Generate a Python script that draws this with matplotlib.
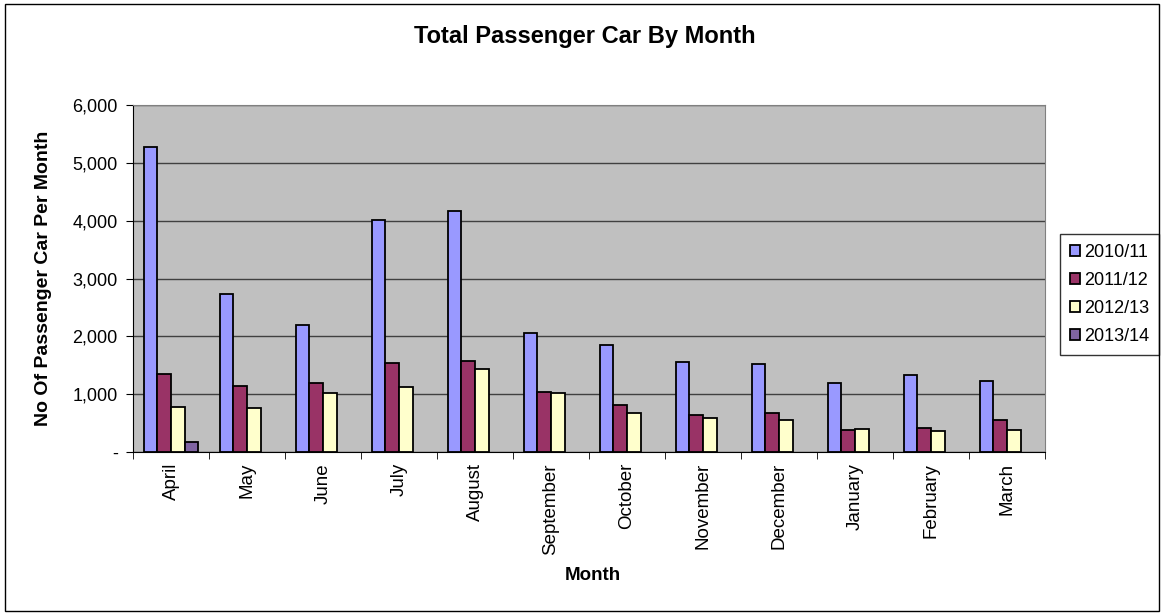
import matplotlib.pyplot as plt
import numpy as np
from matplotlib.patches import Rectangle
from matplotlib.ticker import FuncFormatter

plt.rcParams["font.family"] = ["Liberation Sans", "DejaVu Sans"]

months = ["April", "May", "June", "July", "August", "September", "October",
          "November", "December", "January", "February", "March"]
series_names = ["2010/11", "2011/12", "2012/13", "2013/14"]
y2010 = [5280, 2730, 2200, 4010, 4170, 2060, 1855, 1555, 1525, 1190, 1330, 1220]
y2011 = [1355, 1145, 1200, 1545, 1580, 1040, 815, 640, 675, 375, 420, 550]
y2012 = [785, 765, 1015, 1120, 1440, 1025, 675, 580, 550, 405, 360, 375]
y2013 = [180] + [np.nan] * 11
colors = ["#9999FF", "#993366", "#FFFFCC", "#8064A2"]

W, H = 1164, 615
fig = plt.figure(figsize=(W / 100, H / 100), dpi=100)
fig.patches.append(Rectangle((0.004, 0.006), 0.992, 0.988, transform=fig.transFigure,
                             fill=False, edgecolor="black", lw=1.0))
ax = fig.add_axes([133 / W, 1 - 452 / H, 912 / W, 347 / H])
ax.set_facecolor("#C0C0C0")

x = np.arange(len(months))
width = 0.18
for i, (name, vals, c) in enumerate(zip(series_names, [y2010, y2011, y2012, y2013], colors)):
    ax.bar(x + (i - 1.5) * width, vals, width, color=c, edgecolor="black",
           linewidth=1.3, label=name, zorder=3)

ax.set_xlim(-0.5, len(months) - 0.5)
ax.set_ylim(0, 6000)
ax.set_yticks(np.arange(0, 6001, 1000))
ax.yaxis.set_major_formatter(FuncFormatter(lambda v, p: "-" if v == 0 else f"{int(v):,}"))
ax.grid(axis="y", color="#404040", lw=1.0, zorder=1)
ax.set_xticks(x)
ax.set_xticklabels(months, rotation=90, fontsize=13.5)
ax.set_xticks(np.arange(-0.5, len(months)), minor=True)
ax.tick_params(axis="x", which="major", length=0, pad=8)
ax.tick_params(axis="x", which="minor", length=5, direction="out")
ax.tick_params(axis="y", labelsize=13, length=5, direction="out", pad=6)
for s in ["top", "right"]:
    ax.spines[s].set_color("#808080")
ax.spines["left"].set_color("black")
ax.spines["bottom"].set_color("black")

fig.text(585 / W, 1 - 37 / H, "Total Passenger Car By Month", fontsize=17,
         fontweight="bold", ha="center", va="center")
fig.text(593 / W, 1 - 575 / H, "Month", fontsize=13.5, fontweight="bold",
         ha="center", va="center")
fig.text(44 / W, 1 - 278 / H, "No Of Passenger Car Per Month", fontsize=14,
         fontweight="bold", ha="center", va="center", rotation=90)

leg = ax.legend(loc="center left", bbox_to_anchor=(1060 / W, 1 - 294.5 / H),
                bbox_transform=fig.transFigure, borderaxespad=0, fontsize=13,
                frameon=True, fancybox=False, edgecolor="black", handlelength=0.55,
                handleheight=0.55, handletextpad=0.25, labelspacing=0.62,
                borderpad=0.55)
leg.get_frame().set_linewidth(1.0)

fig.savefig("out.png", dpi=100)
